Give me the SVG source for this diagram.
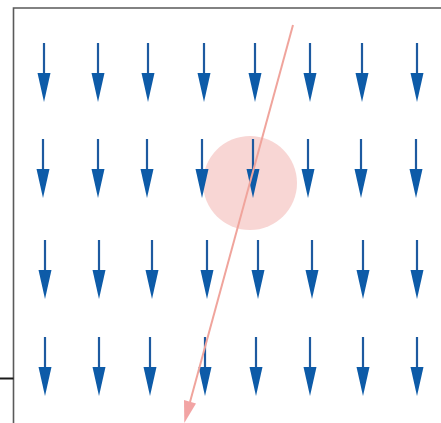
<svg xmlns="http://www.w3.org/2000/svg" width="441" height="423" viewBox="0 0 441 423">
<style>
.frame{stroke:#5a5a5a;stroke-width:1.6;fill:none}
.ar{stroke:#1d5aa0;stroke-width:2.2;fill:none}
.hd{fill:#0d5ba8}
</style>
<defs>
<g id="a">
<line class="ar" x1="0" y1="0" x2="0" y2="32"/>
<polygon class="hd" points="-6.5,30 6.5,30 0,59"/>
</g>
</defs>
<rect width="441" height="423" fill="#ffffff"/>
<g id="frame">
<polyline class="frame" points="441,8 13.5,8 13.5,423"/>
<line x1="0" y1="378.5" x2="13.5" y2="378.5" stroke="#1a1a1a" stroke-width="2"/>
</g>
<g id="spot"><circle cx="250" cy="183" r="47" fill="#f8d6d4"/></g>
<g id="field">
<use href="#a" x="44" y="43"/><use href="#a" x="98" y="43"/><use href="#a" x="148" y="43"/><use href="#a" x="204" y="43"/><use href="#a" x="255" y="43"/><use href="#a" x="310" y="43"/><use href="#a" x="362" y="43"/><use href="#a" x="417" y="43"/>
<use href="#a" x="43" y="139"/><use href="#a" x="98" y="139"/><use href="#a" x="147" y="139"/><use href="#a" x="202" y="139"/><use href="#a" x="253" y="139"/><use href="#a" x="308" y="139"/><use href="#a" x="361" y="139"/><use href="#a" x="416" y="139"/>
<use href="#a" x="45" y="240"/><use href="#a" x="99" y="240"/><use href="#a" x="152" y="240"/><use href="#a" x="207" y="240"/><use href="#a" x="258" y="240"/><use href="#a" x="312" y="240"/><use href="#a" x="363" y="240"/><use href="#a" x="417" y="240"/>
<use href="#a" x="45" y="337"/><use href="#a" x="99" y="337"/><use href="#a" x="150" y="337"/><use href="#a" x="205" y="337"/><use href="#a" x="256" y="337"/><use href="#a" x="310" y="337"/><use href="#a" x="363" y="337"/><use href="#a" x="417" y="337"/>
</g>
<g id="connectors">
<line x1="293" y1="25" x2="190" y2="402" stroke="#f0a49c" stroke-width="2"/>
<polygon points="184,400 196,403.4 184.3,423" fill="#f2a4a4"/>
</g>
</svg>
